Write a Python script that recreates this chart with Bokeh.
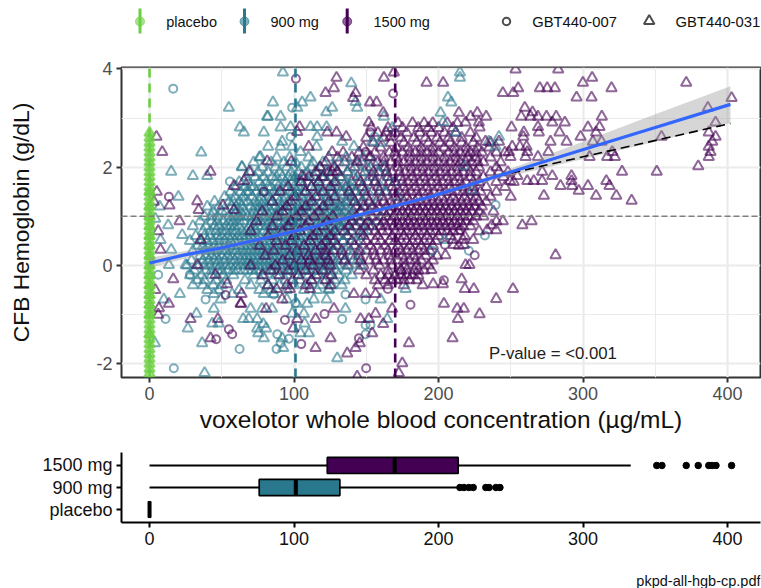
from bokeh.plotting import figure
from bokeh.layouts import column
from bokeh.embed import file_html
from bokeh.resources import INLINE
from bokeh.models import Range1d, FixedTicker, FactorRange
from bokeh.core.properties import value

C_PBO, C_900, C_1500 = "#6ccf43", "#2a788e", "#440154"
FONT = "Liberation Sans"

# ---------- data ----------
tri_900 = [(92.3,3.93),(54.9,3.21),(139.6,3.71),(85.4,3.32),(111.4,3.42),(105.6,3.32),(102.2,3.21),(126.4,3.21),
(122.3,3.12),(143.7,3.21),(142.6,3.33),(162.2,3.03),(81.4,3.03),(81.9,3.03),(90.7,3.03),(62.5,2.81),(65.3,2.71),
(79.1,2.71),(90.7,2.81),(97.6,2.82),(111.4,2.82),(116,2.82),(122.5,2.82),(116,2.62),(82.1,2.42),(91.8,2.52),
(90.7,2.42),(98.7,2.42),(115.6,2.42),(104.5,2.31),(133.3,2.52),(141.4,2.42),(154.1,2.52),(35.8,2.3),(15,1.91),
(30,1.82),(39.9,1.82),(63.9,2.01),(76.8,2.21),(20,1.4),(214.8,3.93),(214.8,3.82),(206.5,3.42),(208.8,3.32),
(201.4,3.11),(211.8,2.71),(203.2,2.92),(234.8,2.52),(241.8,2.62),(239.5,2.42),(217.5,2.02),(223.3,1.52),
(168,2.8),(160,2.5),(204.2,0.52),(12.9,.82),(22.6,.62),(7.6,.52),(15,.32),(25,.01),(13.4,.01),(21,-.58),(9.9,-.69),
(3.7,-1.58),(32.5,-.98),(44.5,-.88),(26.5,-1.28),(43.4,-1.18),(47.9,-1.18),(36.4,-1.58),(64.8,-1.09),(68.7,-1.09),
(74.5,-1.09),(78.7,-1.19),(74.5,-1.28),(80.7,-1.28),(75.2,-1.38),(79.1,-1.48),(91.8,-1.48),(92.5,-1.68),(110.3,-1.38),
(104.5,-1.38),(107.3,-1.18),(129.9,-1.89),(38.1,-2.19),(69.9,-.88),(77.9,-.88),(84.8,-.88),(98.7,-.98),(106.8,-.98),
(135.6,-.88),(164.5,-1.09),(49.2,-.69),(44.5,-.58),(57.2,-.58),(102,-.78),(109.1,-.78),(113.7,-.69),(122.5,-.69),
(124.1,-.48),(86,-.58),(79,-.58),(177.2,-.48),(159.9,-.69),(95,-.69),(7,1.2),(4,0.95)]

rows_900 = {
 2.2:[76,88,97,110,124,136,148],
 2.1:[72,84,93,101,113,120,131,143,155],
 2.0:[64,78,87,95,105,112,118,127,139,150,162],
 1.9:[70,75,82,90,98,103,109,116,122,130,137,146,158],
 1.8:[67,73,79,85,92,96,101,107,114,119,125,133,141,152,165],
 1.7:[62,68,76,81,88,94,99,104,110,117,123,129,136,144,156,170],
 1.6:[60,66,72,78,84,89,95,100,106,112,118,126,131,139,148,160],
 1.5:[56,63,69,74,80,86,91,97,102,108,115,121,127,134,142,151,163],
 1.4:[52,59,65,71,77,83,88,94,99,105,111,117,123,129,137,145,157,172],
 1.3:[45,55,62,68,73,79,85,90,96,101,107,113,119,125,132,140,148],
 1.2:[40,48,57,64,70,76,82,87,92,98,103,109,115,121,128,135,143,155],
 1.1:[44,53,60,66,72,78,84,89,95,100,106,112,118,124,131,138,147,162],
 1.0:[38,47,55,62,68,74,80,86,91,97,102,108,114,120,126,133,141,150],
 0.9:[35,43,51,58,65,71,77,83,88,94,99,105,111,117,123,129,136,145,158],
 0.8:[30,39,48,56,62,69,75,81,86,92,97,103,109,115,121,127,134,142,152],
 0.7:[37,46,53,60,67,73,79,85,90,96,101,107,113,119,125,132,139,148],
 0.6:[32,42,50,57,64,70,76,82,88,94,100,106,112,118,124,130,137,146],
 0.5:[28,36,44,52,59,66,72,78,84,90,96,102,108,114,120,126,134,143],
 0.4:[33,41,48,55,62,68,74,80,86,92,98,104,110,116,122,129,137],
 0.3:[30,38,46,53,60,67,73,79,85,91,97,103,109,115,121,128,136,146],
 0.2:[35,43,50,57,64,70,76,82,88,94,100,106,112,118,125,132,140],
 0.1:[29,37,45,52,59,66,72,78,84,90,96,102,108,114,120,127,135,144],
 0.0:[26,34,42,49,56,63,69,75,81,87,93,99,105,111,117,123,130,138,146],
 -0.1:[31,39,47,54,61,68,74,80,86,92,98,104,110,116,122,129,136],
 -0.2:[28,36,43,51,58,72,79,88,95,103,110,117,124,131,140],
 -0.3:[33,38,46,53,66,77,85,94,104,112,120,128,135],
 -0.4:[30,37,44,50,70,82,90,100,110,118,126,133],
 -0.5:[40,48,62,76,84,95,107,116,124],
}
rows_900_more = {
 1.8:[88,99,111,121],
 1.6:[70,82,93,103,115,128,137],
 1.5:[67,78,88,99,106,118,125,138],
 1.3:[58,65,76,83,93,104,110,122,129,137],
 1.2:[60,73,79,90,95,106,112,124,131],
 1.1:[50,63,75,81,92,103,109,121,128,135],
 1.0:[43,58,65,71,83,89,99,105,117,123,130,138],
 0.9:[47,55,62,74,80,91,97,102,114,120,126,133],
 0.8:[45,53,59,72,78,84,95,100,106,118,124,131],
 0.7:[42,50,57,64,70,82,88,93,104,110,116,122,129],
 0.6:[38,47,54,61,67,73,85,91,97,103,115,121,127],
 0.5:[40,48,56,62,69,75,81,87,93,99,105,111,117,123],
 0.4:[37,45,52,58,65,71,77,83,89,95,101,107,113,119,125],
 0.3:[42,50,57,64,70,76,82,88,94,100,106,112,118,124],
 0.2:[39,46,54,61,67,73,79,85,91,97,103,109,115,121],
 0.1:[41,48,56,63,69,75,81,87,93,99,105,111,117,123],
 0.0:[38,46,53,60,66,72,78,84,90,96,102,108,114,120,127],
 -0.1:[43,50,58,65,71,77,83,89,95,101,107,113,119,125],
}

circ_900 = [(16.4,3.6),(55.6,1.71),(97.6,2.62),(98.7,3.21),(155.7,2.62),(239.5,1.23),(232.1,.61),(221,.3),(195.6,.3),
(11.1,-1.09),(16.8,-2.09),(6,-.19),(38.8,-.69),(62.3,-1.7),(88.4,-1.4),(87.9,-1.7),(90.7,-1.58),(96.4,-1.49),
(101,-.77),(135.6,-.59),(133.3,-1.09),(149.5,-.69),(149.5,-1.21),(152.9,-1.21),(149.5,-1.4),(27.9,-.19),(86,-.59)]

tri_1500 = [(129.4,3.82),(127.6,3.61),(121.8,3.51),(142.6,3.51),(140.9,3.41),(162.2,3.82),(169.1,3.93),(191.7,3.72),
(152.5,3.32),(157.1,3.32),(161.7,3.11),(151.8,2.91),(153.4,2.81),(163.8,2.71),(166.8,2.62),(103.8,2.82),(102.2,2.72),
(123,2.71),(129.4,2.71),(136.1,2.62),(110.2,2.42),(126.4,2.31),(4.8,2.62),(8.8,2.31),(42.2,1.91),(13.8,1.22),(33,1.31),
(34,1.13),(50.8,1.22),(58.4,1.13),(65.3,1.72),(68.9,1.91),(58.4,1.62),(81.4,2.12),(98,2.11),(105.6,1.82),(126.4,1.91),
(130,1.91),(143.7,2.11),(153,2.21),
(253.3,3.99),(282.8,3.99),(306.3,3.82),(299.9,3.72),(203.2,3.72),(255.1,3.61),(244.5,3.51),(251.7,3.51),(270.1,3.61),
(275.2,3.61),(280.5,3.61),(319.7,3.61),(295.5,3.42),(305.9,3.42),(371.4,3.72),(402.8,3.41),(386.4,3.21),(391.7,2.91),
(387,2.71),(391.7,2.62),(389.4,2.52),(387,2.42),(388.2,2.31),(387,2.21),(379.7,2.02),(354.3,2.62),(351,1.91),(327,1.91),
(259.7,3.21),(257.2,3.03),(265,3.12),(263.7,3.03),(268.8,3.03),(274.7,3.03),(281.4,3.03),(278.7,2.91),(287.4,2.91),
(313,3.03),(303.4,2.81),(311.4,2.82),(309,2.71),(250.5,2.81),(268.8,2.82),(283.7,2.71),(269.4,2.71),(259,2.71),(258.6,2.62),
(298.3,2.62),(277.5,2.52),(288.6,2.52),(306.8,2.52),(312.8,2.52),(276,2.31),(251,2.42),(256.3,2.42),(260.9,2.42),(261.4,2.31),
(248.7,2.31),(249.8,2.21),(260.2,2.21),(268.8,2.21),(304.5,2.21),(316.7,2.21),(322,2.21),(320.2,2.31),(271.7,1.91),(278.7,1.82),
(261.4,1.72),(265.9,1.72),(271.7,1.72),(316.1,1.72),(292,1.82),(292,1.72),(284.4,1.62),(292.5,1.62),(303.4,1.62),(318.3,1.62),
(297,1.52),(272.9,1.42),(309,1.42),(323,1.42),(333.6,1.32),(226.8,3.11),(222.2,3.03),(233,3.03),(218.7,2.91),(227.9,2.91),
(228.4,2.81),(214.1,3.11),(232.5,2.52),(241.8,2.52),(249.4,1.72),(254.5,1.82),(241.8,1.91),
(264.4,.9),(258,.82),(236.7,.82),(244.5,.9),(239.9,.72),(233.7,.72),(224,.52),(217.1,.52),(210,.52),(217.6,.42),(210.6,.42),
(204.8,.21),(281,.21),(218.7,.01),(221.4,.01),(195,-.09),(196.3,-.38),(203,-.38),(216,-.28),(218.2,-.48),(224.4,-.48),
(251.5,-.48),(239.9,-.68),(203.7,-.78),(212.9,-.88),(217.5,-.88),(228.4,-.99),(213.4,-1.09),(209.7,-1.48),
(20.8,.9),(35.3,.52),(7.6,.32),(33,.01),(16.4,-.28),(45.7,-.19),(53.7,-.38),(13.4,-.78),(6.5,-.87),(28.4,-1.09),(47.3,-1.09),
(63.7,-.58),(63,-.78),(63.3,-.78),(80.7,-.88),(99.4,-1.28),(102.2,-1.09),(114.9,-1.09),(127.6,-.88),(125.3,-1.48),(114.9,-1.68),
(136.8,-1.79),(142.6,-1.68),(145.5,-1.58),(141.4,-.58),(149.5,-.58),(156.4,-.58),(156.4,-.98),(146,-1.09),(151.8,-1.09),(161.7,-1.19),
(154.1,-1.38),(167.9,-.88),(179.5,-1.58),(174.9,-1.99),(172.5,-2.19),(143.7,-2.26),(42.2,-1.48),(87.9,-.48),(91.8,-.69),(97.1,-.48),
(111,-.48),(5,1.5),(3,1.3),(6,0.7),(4,-0.5),(6,-1.0)]

rows_1500 = {
 2.9:[172,182,190,196,206,213],
 2.8:[165,175,186,193,200,210],
 2.7:[158,170,178,187,195,204,212,222],
 2.6:[150,162,174,183,191,199,207,216,226],
 2.5:[155,167,176,185,193,201,208,216,224,236],
 2.4:[148,160,171,179,188,196,204,211,219,227,235],
 2.3:[134,145,156,166,175,184,192,200,207,215,222,230,240,246],
 2.2:[130,140,152,162,171,180,188,196,204,212,220,226,236],
 2.1:[122,135,147,158,167,176,184,192,200,208,215,223,231,243],
 2.0:[118,128,142,153,163,172,181,189,197,205,213,220,228,240],
 1.9:[115,124,137,149,159,168,177,185,193,201,209,217,226,236,248],
 1.8:[110,120,132,144,155,165,174,182,190,198,206,214,222,231,245],
 1.7:[105,117,128,140,151,161,170,179,187,195,203,211,219,228,240,252],
 1.6:[96,112,125,136,147,158,168,176,184,192,200,208,216,224,233,246],
 1.5:[90,108,120,132,143,154,164,173,181,189,197,205,213,221,229,240],
 1.4:[101,115,128,140,150,161,170,178,186,194,202,210,218,226,236,250],
 1.3:[85,98,112,124,136,147,157,167,176,184,192,200,208,216,224,233],
 1.2:[95,108,120,132,143,154,164,173,181,189,197,205,213,221,230],
 1.1:[78,92,105,117,130,141,152,162,171,179,187,195,203,211,219,228,238],
 1.0:[88,102,114,127,138,149,160,169,177,185,193,201,209,217,226],
 0.9:[74,98,110,123,135,146,157,167,175,183,191,199,207,215,224,240],
 0.8:[85,96,108,120,132,143,154,164,173,181,189,197,205,213,222],
 0.7:[70,92,104,116,128,140,151,161,170,178,186,194,202,210,228],
 0.6:[82,100,113,125,137,148,158,168,176,184,192,200,208,218],
 0.5:[88,98,111,122,134,146,156,166,174,182,190,198],
 0.4:[76,94,107,119,130,142,153,163,172,180,188,196,214],
 0.3:[86,102,115,127,139,150,160,170,178,186,194],
 0.2:[80,97,110,122,134,145,156,166,175,183,191,199],
 0.1:[92,105,118,130,141,152,162,172,180,188,196],
 0.0:[70,87,100,113,125,137,148,159,168,177,185,193],
 -0.1:[84,96,108,120,145,155,165,174,183,190],
 -0.2:[78,90,103,115,126,150,160,170,178],
 -0.3:[99,112,122,156,163,171],
 -0.4:[82,95,108,125,158,165,176,189],
}
rows_1500_more = {
 2.3:[170,180,188,196,211,219,226],
 2.1:[162,172,180,188,196,204,212,219,227],
 1.9:[155,164,173,181,189,197,205,213,222],
 1.7:[146,156,166,175,183,191,199,207,215,224],
 1.5:[138,149,159,169,177,185,193,201,209,217,225],
 1.3:[142,152,162,172,180,188,196,204,212,220,228],
 1.2:[148,158,168,177,185,193,201,209,217,225],
 1.1:[146,157,166,175,183,191,199,207,215,223],
 1.0:[143,154,164,173,181,189,197,205,213,221,231],
 0.9:[140,151,162,171,179,187,195,203,211,219],
 0.8:[138,149,160,169,177,185,193,201,209,217],
 0.7:[135,146,156,165,174,182,190,198,206,214],
 0.5:[128,140,150,160,170,178,186,194],
 0.3:[122,133,145,155,165,174,182,190],
 0.1:[111,124,135,146,157,167,176,184],
 -0.1:[174,178,186],
 -0.2:[165,174,182,186],
 -0.3:[168,176,180,185],
}

circ_1500 = [(101.3,3.8),(168.6,3.5),(153,2.71),(13.4,1.4),(79,1.5),(149.5,2.31),(225,.21),(203.7,-.3),(204.4,.42),(215.2,.72),
(46.1,-1.5),(54.9,-1.3),(57.2,-1.4),(52.6,-.6),(93.7,-1.11),(121.1,-.99),(105,-1.6),(144.9,-1.48),(149.9,-2.09),(164.9,-.48),(180.6,-.8)]

pbo_y = [2.7,2.6,2.5,2.4,2.3,2.2,2.1,2.0,1.9,1.8,1.7,1.6,1.5,1.4,1.3,1.2,1.1,1.0,0.9,0.8,0.7,0.6,0.5,0.4,0.3,0.2,0.1,0.0,
 -0.1,-0.2,-0.3,-0.4,-0.5,-0.6,-0.7,-0.8,-0.9,-1.0,-1.1,-1.2,-1.3,-1.4,-1.5,-1.6,-1.7,-1.8,-1.9,-2.0,-2.1,-2.2,
 1.5,1.2,1.0,0.8,0.6,0.4,0.2,0.0,-0.2,-0.4,-0.6,-0.8,-1.0,-1.4]
pbo_x = [0.0]*len(pbo_y)

fit_x = [0,23.5,50,80,118,127,160,194.5,241,298,350,402]
fit_y = [0.05,0.21,0.36,0.56,0.82,0.90,1.14,1.40,1.82,2.34,2.81,3.28]
band_lo = [-0.05,0.13,0.29,0.51,0.78,0.86,1.09,1.35,1.76,2.15,2.52,2.90]
band_hi = [0.15,0.29,0.43,0.61,0.86,0.94,1.19,1.45,1.87,2.50,3.08,3.65]
lin_x = [241,402]
lin_y = [1.82,2.89]

med_line_x = [0,101,170]
med_line_c = [C_PBO,C_900,C_1500]

dose_levels = ["placebo","900 mg","1500 mg"]
box_q1 = [0,75.9,123]
box_med = [0,101.2,169.6]
box_q3 = [0,131.7,213.6]
whisk_hi = [0,214,333]
out_900 = [214.8,217.6,221,224,232.7,235,239.7,242.5]
out_1500 = [351,354.6,371.4,379.7,387,389.3,392,402.8]

x_ticks = [0,100,200,300,400]
y_ticks = [-2,0,2,4]
# ------------------------------------------------

def expand(pts, *all_rows):
    xs = [p[0] for p in pts]; ys = [p[1] for p in pts]
    for rows in all_rows:
        for y, vals in rows.items():
            xs += vals; ys += [y]*len(vals)
    return xs, ys

W = 761
xr = Range1d(-19.4, 422.8)

# ---- legend strip ----
leg = figure(width=W, height=58, x_range=(121,760), y_range=(58,0), toolbar_location=None,
             output_backend="svg", min_border_left=121, min_border_right=1, min_border_top=0, min_border_bottom=0,
             outline_line_color=None)
leg.axis.visible = False
leg.grid.visible = False
leg_cx = [139.5,244,346.7]
leg_lx = [165.7,270,373]
for cx, lx, col, name in zip(leg_cx, leg_lx, [C_PBO,C_900,C_1500], dose_levels):
    leg.segment([cx],[8],[cx],[33], line_color=col, line_width=3)
    leg.scatter([cx],[21], marker="circle", size=9, color=col, fill_alpha=0.6, line_alpha=0.6)
    leg.text([lx],[21.5],[name], text_font=value(FONT), text_font_size="14.5px", text_baseline="middle", text_color="#111111")
leg.scatter([506],[21], marker="circle", size=7.5, line_color="#4d4d4d", fill_color=None, line_width=2)
leg.scatter([648.7],[20.5], marker="triangle", size=10.5, line_color="#4d4d4d", fill_color=None, line_width=2)
leg.text([531.7,675],[21.5,21.5],["GBT440-007","GBT440-031"], text_font=value(FONT), text_font_size="14.8px",
         text_baseline="middle", text_color="#111111")

# ---- main panel ----
p = figure(width=W, height=387, x_range=xr, y_range=Range1d(-2.28,4.03), toolbar_location=None, output_backend="svg",
           min_border_left=121, min_border_right=1, min_border_top=9, min_border_bottom=68,
           outline_line_color="#333333", outline_line_width=2)
p.xaxis.ticker = FixedTicker(ticks=x_ticks, minor_ticks=[50,150,250,350])
p.yaxis.ticker = FixedTicker(ticks=y_ticks, minor_ticks=[-1,1,3])
p.xgrid.grid_line_color = "#ebebeb"; p.ygrid.grid_line_color = "#ebebeb"
p.xgrid.grid_line_width = 2.2; p.ygrid.grid_line_width = 2.2
p.xgrid.minor_grid_line_color = "#ebebeb"; p.ygrid.minor_grid_line_color = "#ebebeb"
p.xgrid.minor_grid_line_width = 1.1; p.ygrid.minor_grid_line_width = 1.1
for ax in (p.xaxis[0], p.yaxis[0]):
    ax.axis_line_color = None
    ax.minor_tick_line_color = None
    ax.major_tick_line_color = "#333333"; ax.major_tick_line_width = 2
    ax.major_tick_in = 0; ax.major_tick_out = 5
    ax.major_label_text_font = FONT; ax.major_label_text_font_size = "18px"
    ax.major_label_text_color = "#4d4d4d"; ax.major_label_standoff = 4
    ax.axis_label_text_font = FONT
    ax.axis_label_text_font_style = "normal"; ax.axis_label_text_color = "#111111"
p.yaxis[0].major_label_overrides = {-2: "-2"}
p.xaxis.axis_label = "voxelotor whole blood concentration (µg/mL)"
p.yaxis.axis_label = "CFB Hemoglobin (g/dL)"
p.xaxis.axis_label_text_font_size = "24.5px"
p.yaxis.axis_label_text_font_size = "22.8px"
p.xaxis.axis_label_standoff = 3
p.yaxis.axis_label_standoff = 59

mk = dict(line_width=2, line_alpha=0.6, fill_color=None)
rx, ry = expand([], rows_1500)
under = [i for i, v in enumerate(rx) if v >= 130]
over = [i for i, v in enumerate(rx) if v < 130]
p.scatter([rx[i] for i in under], [ry[i] for i in under], marker="triangle", size=10.5, line_color=C_1500, **mk)
tx, ty = expand(tri_900, rows_900, rows_900_more)
p.scatter(tx, ty, marker="triangle", size=10.5, line_color=C_900, **mk)
p.scatter([c[0] for c in circ_900],[c[1] for c in circ_900], marker="circle", size=8, line_color=C_900, **mk)
p.scatter([rx[i] for i in over], [ry[i] for i in over], marker="triangle", size=10.5, line_color=C_1500, **mk)
tx, ty = expand(tri_1500, rows_1500_more)
p.scatter(tx, ty, marker="triangle", size=10.5, line_color=C_1500, **mk)
p.scatter([c[0] for c in circ_1500],[c[1] for c in circ_1500], marker="circle", size=8, line_color=C_1500, **mk)
p.scatter(pbo_x, pbo_y, marker="triangle", size=10.5, line_color=C_PBO, fill_color=C_PBO, fill_alpha=0.6, line_width=2, line_alpha=0.7)

p.segment([-19.4],[1],[422.8],[1], line_color="#808080", line_width=1.5, line_dash="6 3")
for xv, col in zip(med_line_x, med_line_c):
    p.segment([xv],[-2.28],[xv],[4.03], line_color=col, line_width=2.6, line_dash="9 6")
p.varea(fit_x, band_lo, band_hi, fill_color="#999999", fill_alpha=0.4)
p.line(lin_x, lin_y, line_color="black", line_width=1.6, line_dash="9 5")
p.line(fit_x, fit_y, line_color="#3366ff", line_width=3.2)
p.text([235],[-1.79],["P-value = <0.001"], text_font=value(FONT), text_font_size="16.8px",
       text_baseline="middle", text_color="#222222")

# ---- box panel ----
b = figure(width=W, height=123, x_range=xr, y_range=FactorRange(factors=dose_levels, range_padding=0.06),
           toolbar_location=None, output_backend="svg",
           min_border_left=121, min_border_right=1, min_border_top=7, min_border_bottom=46,
           outline_line_color=None)
b.grid.visible = False
b.xaxis.ticker = FixedTicker(ticks=x_ticks)
for ax in (b.xaxis[0], b.yaxis[0]):
    ax.axis_line_color = "black"; ax.axis_line_width = 2
    ax.major_tick_line_color = "black"; ax.major_tick_line_width = 2
    ax.major_tick_in = 0; ax.major_tick_out = 5
    ax.minor_tick_line_color = None
    ax.major_label_text_font = FONT; ax.major_label_text_font_size = "18px"
    ax.major_label_text_color = "#111111"; ax.major_label_standoff = 4
b.segment(box_q1, dose_levels, [0,0,0], dose_levels, line_color="black", line_width=2)
b.segment(box_q3, dose_levels, whisk_hi, dose_levels, line_color="black", line_width=2)
b.hbar(y=dose_levels, left=box_q1, right=box_q3, height=0.73, fill_color=["white",C_900,C_1500], line_color="black", line_width=1.7)
b.rect(x=box_med, y=dose_levels, width=3, height=0.73, width_units="screen", fill_color="black", line_color="black")
b.scatter(out_900, ["900 mg"]*len(out_900), marker="circle", size=6.5, color="black")
b.scatter(out_1500, ["1500 mg"]*len(out_1500), marker="circle", size=6.5, color="black")

# ---- caption strip ----
cap = figure(width=W, height=20, x_range=(121,760), y_range=(20,0), toolbar_location=None, output_backend="svg",
             min_border_left=121, min_border_right=1, min_border_top=0, min_border_bottom=0, outline_line_color=None)
cap.axis.visible = False
cap.grid.visible = False
cap.text([760],[12],["pkpd-all-hgb-cp.pdf"], text_align="right", text_baseline="middle", text_font=value(FONT),
         text_font_size="14.5px", text_color="#111111")

out = column(leg, p, b, cap, spacing=0)
open("out.html", "w").write(file_html(out, INLINE))
